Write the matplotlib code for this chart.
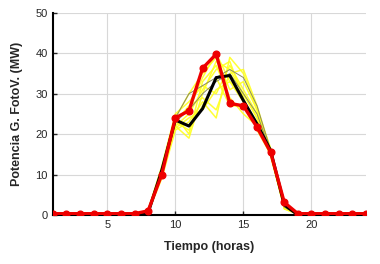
import matplotlib
matplotlib.use("Agg")
import matplotlib.pyplot as plt

plt.rcParams['font.family'] = ['Liberation Sans', 'DejaVu Sans']

horas = list(range(1, 25))
noche_am = [0] * 7
noche_pm = [0] * 6

# escenarios de potencia fotovoltaica (MW), horas 8..18
escenarios = [
    [0.8, 10.0, 22.0, 19.0, 30.0, 38.0, 36.0, 30.0, 24.0, 15.0, 2.0],
    [1.0, 11.0, 24.0, 26.0, 34.0, 40.0, 33.0, 28.0, 22.0, 16.0, 2.5],
    [0.6, 9.0, 21.0, 23.0, 28.0, 24.0, 39.0, 35.0, 26.0, 15.0, 1.5],
    [1.2, 12.0, 25.0, 28.0, 32.0, 30.0, 37.0, 31.0, 25.0, 16.0, 2.0],
    [0.9, 10.0, 23.0, 21.0, 27.0, 34.0, 27.0, 27.0, 23.0, 14.5, 1.8],
    [1.1, 11.0, 24.0, 30.0, 35.0, 39.0, 31.0, 33.0, 26.0, 16.5, 2.2],
    [0.7, 10.5, 22.0, 25.0, 31.0, 36.0, 38.0, 29.0, 21.0, 15.0, 2.0],
    [1.0, 9.5, 23.0, 27.0, 29.0, 26.0, 35.0, 36.0, 27.0, 16.0, 1.5],
    [0.8, 11.5, 24.5, 20.0, 33.0, 37.0, 29.0, 25.0, 22.0, 15.5, 2.8],
    [0.9, 10.0, 21.5, 24.0, 26.0, 31.0, 33.0, 30.0, 24.0, 15.0, 2.0],
]
grises = [
    [1.0, 11.0, 24.0, 30.0, 32.0, 34.0, 36.0, 34.0, 27.0, 16.0, 2.0],
    [0.8, 10.0, 23.0, 26.0, 30.0, 33.0, 35.0, 30.0, 25.0, 15.5, 2.0],
]
media = [0.5, 11.0, 23.5, 22.0, 26.3, 34.0, 34.5, 28.3, 22.5, 15.9, 2.5]
real = [1.0, 10.0, 24.0, 25.8, 36.3, 39.8, 27.6, 27.0, 21.7, 15.5, 3.1]

fig = plt.figure(figsize=(3.8, 2.64), dpi=100)
ax = fig.add_axes([0.139, 0.186, 0.824, 0.765])

for s in escenarios:
    ax.plot(horas, [0.2] * 7 + s + [0.2] * 6, color='#ffff20', lw=1.1, alpha=0.9, zorder=2)
for s in grises:
    ax.plot(horas, noche_am + s + noche_pm, color='#8a8a60', lw=0.7, zorder=3)
ax.plot(horas, noche_am + media + noche_pm, color='black', lw=2.2, zorder=4)
real_y = [0.3] * 7 + real + [0.3] * 6
ax.plot(horas, real_y, color='#ee0000', lw=2.4, marker='o', ms=4.8, zorder=5)

ax.set_xlim(1, 24)
ax.set_ylim(0, 50)
ax.set_xticks([5, 10, 15, 20])
ax.set_yticks([0, 10, 20, 30, 40, 50])
ax.grid(True, color='#d8d8d8', lw=0.8)
ax.set_axisbelow(True)
ax.spines['top'].set_visible(False)
ax.spines['right'].set_visible(False)
ax.spines['left'].set_linewidth(1.5)
ax.spines['bottom'].set_linewidth(1.5)
ax.tick_params(direction='in', length=3, width=1, labelsize=8, colors='#262626')
ax.set_xlabel('Tiempo (horas)', fontsize=9, fontweight='bold', color='#262626', labelpad=8)
ax.set_ylabel('Potencia G. FotoV. (MW)', fontsize=9, fontweight='bold', color='#262626', labelpad=9)

fig.savefig('out.png', dpi=100)
